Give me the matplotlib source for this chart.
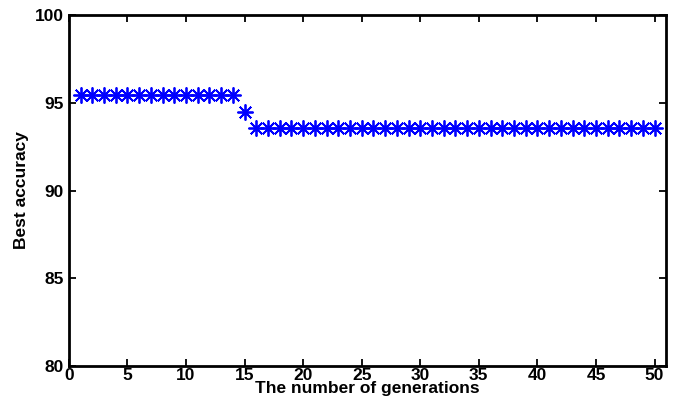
import matplotlib.pyplot as plt
import numpy as np

plt.rcParams['font.family'] = ['Liberation Sans', 'DejaVu Sans']
plt.rcParams['font.weight'] = 'bold'

# best accuracy per generation
generations = list(range(1, 51))
best_acc = [95.45] * 14 + [94.5] + [93.56] * 35

x_ticks = [0, 5, 10, 15, 20, 25, 30, 35, 40, 45, 50]
y_ticks = [80, 85, 90, 95, 100]

fig = plt.figure(figsize=(6.75, 4.05), dpi=100)
ax = fig.add_axes([0.102, 0.096, 0.885, 0.867])

ax.plot(generations, best_acc, linestyle='none', marker=(8, 2, 0),
        markersize=11.5, markeredgewidth=1.3, color='#0000ff')

ax.set_xlim(0, 51)
ax.set_ylim(80, 100)
ax.set_xticks(x_ticks)
ax.set_yticks(y_ticks)
ax.tick_params(direction='in', top=True, right=True, length=5, width=1.3,
               labelsize=12.5)
ax.tick_params(axis='x', pad=1)
ax.tick_params(axis='y', pad=3.5)
for lbl in ax.get_xticklabels() + ax.get_yticklabels():
    lbl.set_fontweight('bold')
for sp in ax.spines.values():
    sp.set_linewidth(2)

ax.set_xlabel("The number of generations", fontsize=12.5, fontweight='bold', labelpad=-1)
ax.set_ylabel("Best accuracy", fontsize=12.5, fontweight='bold', labelpad=4)

fig.savefig("out.png", dpi=100)
